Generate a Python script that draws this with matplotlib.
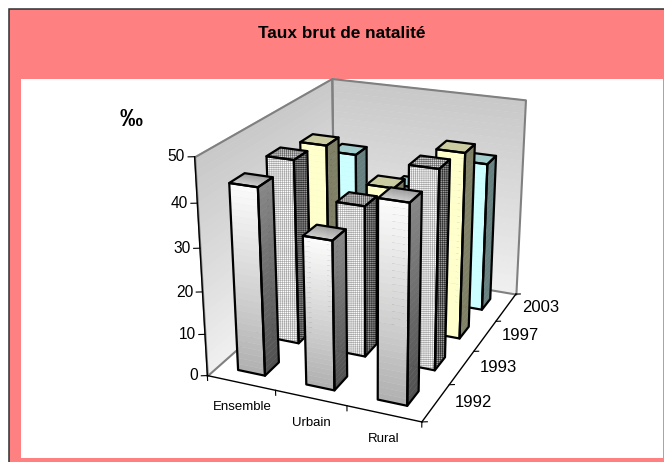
import numpy as np
import matplotlib
matplotlib.use("Agg")
import matplotlib.pyplot as plt
from matplotlib.patches import Rectangle
from matplotlib.colors import to_rgb
from mpl_toolkits.mplot3d.art3d import Poly3DCollection

plt.rcParams["font.family"] = ["Liberation Sans", "DejaVu Sans"]
plt.rcParams["hatch.linewidth"] = 0.45

categories = ["Ensemble", "Urbain", "Rural"]
years = ["1992", "1993", "1997", "2003"]
values_1992 = [43.5, 34.4, 45]
values_1993 = [44.2, 36, 46.6]
values_1997 = [42.5, 34.5, 45]
values_2003 = [35.2, 29, 37.2]
z_ticks = [0, 10, 20, 30, 40, 50]

BAR = 0.4
BAR_SHIFT = -0.015
STRIPS = 30
LW = 1.6

fig = plt.figure(figsize=(6.64, 4.62), dpi=100)

# frame behind the 3d axes, in pixels
bg = fig.add_axes([0, 0, 1, 1])
bg.set_xlim(0, 664)
bg.set_ylim(462, 0)
bg.set_xticks([])
bg.set_yticks([])
bg.axis("off")
bg.add_patch(Rectangle((9, 9), 700, 500, fc="#FF8080", ec="#303030", lw=1.1))
bg.add_patch(Rectangle((21, 79), 642, 379, fc="white", ec="none"))

fig.text(342 / 664, 1 - 33.5 / 462, "Taux brut de natalité", fontsize=12.4,
         fontweight="bold", ha="center", va="center")
fig.text(131 / 664, 1 - 119 / 462, "‰", fontsize=16.5,
         fontweight="bold", ha="center", va="center")

ax = fig.add_axes([158.04 / 664, 15.15 / 462, 417.1 / 664, 417.1 / 462], projection="3d")
ax.set_xlim(0, 3)
ax.set_ylim(0, 4)
ax.set_zlim(0, 50)
ax.view_init(elev=22.081, azim=-67.152)
ax.set_proj_type("persp", focal_length=0.5361)
ax.set_box_aspect((1, 1.3337, 1.0052))
ax.computed_zorder = False
ax.set_xticks([])
ax.set_yticks([])
ax.set_zticks([])
ax.set_axis_off()
ax.patch.set_visible(False)

z_order = [10]


def next_z():
    z_order[0] += 1
    return z_order[0]


def gradient_face(corners, start, end):
    # corners run a-b-c-d, colour goes from edge a-b to edge d-c
    a, b, c, d = [np.array(p, float) for p in corners]
    start = np.array(to_rgb(start))
    end = np.array(to_rgb(end))
    polys = []
    cols = []
    for k in range(STRIPS):
        t0, t1 = k / STRIPS, (k + 1) / STRIPS
        polys.append([a + (d - a) * t0, b + (c - b) * t0, b + (c - b) * t1, a + (d - a) * t1])
        cols.append(start + (end - start) * (k + 0.5) / STRIPS)
    ax.add_collection3d(Poly3DCollection(polys, facecolors=cols, edgecolors=cols,
                                         linewidths=0.3, zorder=next_z()))


def outline(corners, color="black", lw=LW):
    ax.add_collection3d(Poly3DCollection([corners], facecolors=(0, 0, 0, 0), edgecolors=color,
                                         linewidths=lw, zorder=next_z()))


def hatched_face(corners, face, hatch_color, hatch):
    # the hatch takes the edge colour, so the edge is kept at width 0
    ax.add_collection3d(Poly3DCollection([corners], facecolors=face, edgecolors=hatch_color,
                                         linewidths=0, hatch=hatch, zorder=next_z()))


def draw_bar(i, j, h, style):
    x0, x1 = i + 0.5 - BAR / 2 + BAR_SHIFT, i + 0.5 + BAR / 2 + BAR_SHIFT
    y0, y1 = j + 0.5 - BAR / 2, j + 0.5 + BAR / 2
    front = [(x0, y0, h), (x1, y0, h), (x1, y0, 0), (x0, y0, 0)]
    side = [(x1, y0, h), (x1, y1, h), (x1, y1, 0), (x1, y0, 0)]
    top = [(x0, y1, h), (x1, y1, h), (x1, y0, h), (x0, y0, h)]
    if style == "pattern":
        hatched_face(front, "white", "#a8a8a8", "++++++++")
        hatched_face(side, "#a0a0a0", "#303030", "++++++++")
        hatched_face(top, "#d8d8d8", "#686868", "++++++++")
    else:
        gradient_face(front, *style["front"])
        gradient_face(side, *style["side"])
        gradient_face(top, *style["top"])
    outline(front)
    outline(side)
    outline(top)


styles = [
    {"front": ("#fcfcfc", "#b0b0b0"), "side": ("#888888", "#505050"), "top": ("#999999", "#d0d0d0")},
    "pattern",
    {"front": ("#FFFFCC", "#FFFFCC"), "side": ("#808066", "#808066"), "top": ("#CCCCA3", "#CCCCA3")},
    {"front": ("#CCFFFF", "#CCFFFF"), "side": ("#668080", "#668080"), "top": ("#A3CCCC", "#A3CCCC")},
]
series = [values_1992, values_1993, values_1997, values_2003]
n_x = len(categories)
n_y = len(years)
z_top = z_ticks[-1]

# walls and floor
gradient_face([(0, 0, z_top), (0, n_y, z_top), (0, n_y, 0), (0, 0, 0)], "#c8c8c8", "#f0f0f0")
gradient_face([(0, n_y, z_top), (n_x, n_y, z_top), (n_x, n_y, 0), (0, n_y, 0)], "#c8c8c8", "#f0f0f0")
outline([(0, 0, z_top), (0, n_y, z_top), (0, n_y, 0), (0, 0, 0)], "#808080", 1.5)
outline([(0, n_y, z_top), (n_x, n_y, z_top), (n_x, n_y, 0), (0, n_y, 0)], "#808080", 1.5)

# axis lines and ticks
ax.plot([0, 0], [0, 0], [0, z_top], color="black", lw=1.0, zorder=next_z())
ax.plot([0, n_x], [0, 0], [0, 0], color="black", lw=1.0, zorder=next_z())
ax.plot([n_x, n_x], [0, n_y], [0, 0], color="black", lw=1.0, zorder=next_z())
for v in z_ticks:
    ax.plot([0, -0.07], [0, -0.035], [v, v], color="black", lw=0.8, zorder=next_z())
    ax.text(-0.105, -0.05, v, str(v), fontsize=11.2, ha="right", va="center", zorder=next_z())
for i in range(n_x + 1):
    ax.plot([i, i], [0, 0], [0, -1.2], color="black", lw=0.8, zorder=next_z())
for j in range(n_y + 1):
    ax.plot([n_x, n_x + 0.06], [j, j + 0.03], [0, 0], color="black", lw=0.8, zorder=next_z())
for i, name in enumerate(categories):
    ax.text(i + 0.5, 0, -6, name, fontsize=9.5, ha="center", va="center", zorder=next_z())
for j, name in enumerate(years):
    ax.text(n_x + 0.21, j + 0.6, 0, name, fontsize=12, ha="left", va="center", zorder=next_z())

# back row first, left to right
for j in range(n_y - 1, -1, -1):
    for i in range(n_x):
        draw_bar(i, j, series[j][i], styles[j])

fig.savefig("out.png", dpi=100)
